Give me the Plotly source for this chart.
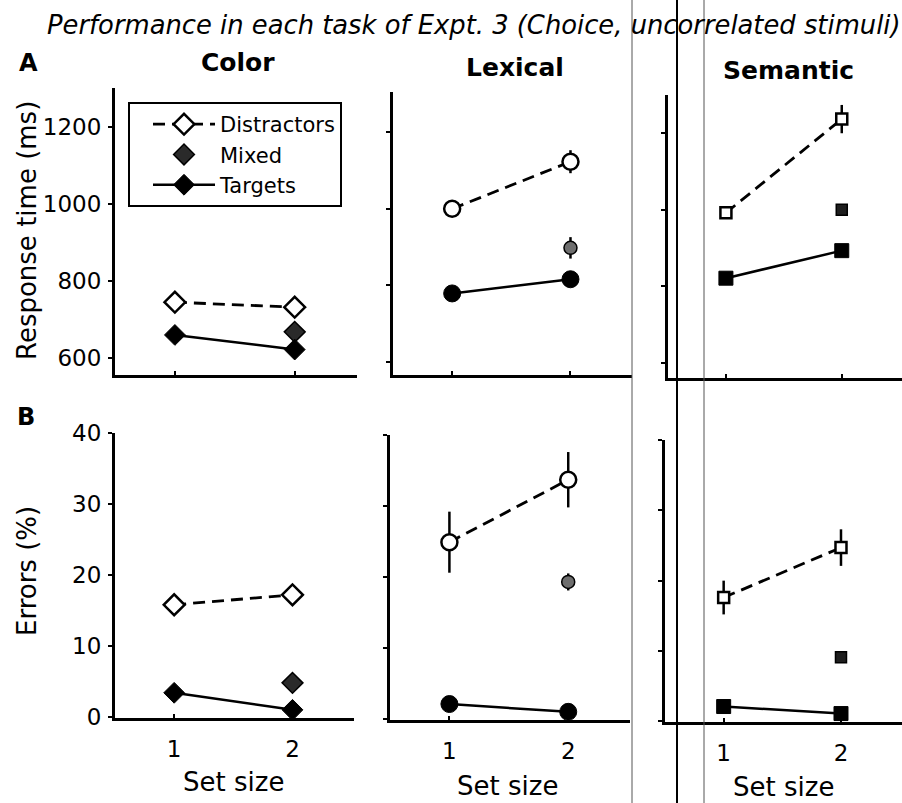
import plotly.graph_objects as go

# ---------------- data ----------------
set_size = [1, 2]
mixed_set_size = [2]

rt_color_distractors = [745, 732]
rt_color_distractors_err = [8, 8]
rt_color_mixed = [668]
rt_color_mixed_err = [8]
rt_color_targets = [660, 622]
rt_color_targets_err = [6, 6]

rt_lexical_distractors = [1000, 1123]
rt_lexical_distractors_err = [10, 30]
rt_lexical_mixed = [898]
rt_lexical_mixed_err = [28]
rt_lexical_targets = [779, 816]
rt_lexical_targets_err = [8, 8]

rt_semantic_distractors = [992, 1237]
rt_semantic_distractors_err = [15, 37]
rt_semantic_mixed = [1000]
rt_semantic_mixed_err = [10]
rt_semantic_targets = [821, 893]
rt_semantic_targets_err = [6, 8]

er_color_distractors = [15.8, 17.2]
er_color_distractors_err = [1.0, 1.3]
er_color_mixed = [4.8]
er_color_mixed_err = [0.8]
er_color_targets = [3.4, 1.0]
er_color_targets_err = [0.5, 0.3]

er_lexical_distractors = [24.9, 33.7]
er_lexical_distractors_err = [4.3, 3.9]
er_lexical_mixed = [19.3]
er_lexical_mixed_err = [1.2]
er_lexical_targets = [2.1, 1.0]
er_lexical_targets_err = [0.4, 0.3]

er_semantic_distractors = [17.6, 24.7]
er_semantic_distractors_err = [2.4, 2.6]
er_semantic_mixed = [9.1]
er_semantic_mixed_err = [0.4]
er_semantic_targets = [2.1, 1.1]
er_semantic_targets_err = [0.4, 0.3]

rt_ticks = [600, 800, 1000, 1200]
err_ticks = [0, 10, 20, 30, 40]
x_ticks = [1, 2]
task_names = ["Color", "Lexical", "Semantic"]
series_names = ["Distractors", "Mixed", "Targets"]

# ---------------- layout helpers ----------------
W, H = 902, 803
FONT = "DejaVu Sans"


def px_x(p):
    return p / W


def px_y(p):
    return 1 - p / H


panels = [
    # (task index, row, x0,x1 px, ytop,ybottom px, yrange)
    (0, "A", 115, 357, 88, 375, [556, 1301]),
    (1, "A", 393, 632, 92, 375, [566, 1305]),
    (2, "A", 668, 902, 95, 378, [560, 1300]),
    (0, "B", 115, 354, 433, 718, [-0.15, 40]),
    (1, "B", 390, 630, 435, 720, [-0.15, 40]),
    (2, "B", 665, 902, 440, 722, [-0.1, 40]),
]

data_sets = {
    (0, "A"): (rt_color_distractors, rt_color_distractors_err, rt_color_mixed, rt_color_mixed_err, rt_color_targets, rt_color_targets_err),
    (1, "A"): (rt_lexical_distractors, rt_lexical_distractors_err, rt_lexical_mixed, rt_lexical_mixed_err, rt_lexical_targets, rt_lexical_targets_err),
    (2, "A"): (rt_semantic_distractors, rt_semantic_distractors_err, rt_semantic_mixed, rt_semantic_mixed_err, rt_semantic_targets, rt_semantic_targets_err),
    (0, "B"): (er_color_distractors, er_color_distractors_err, er_color_mixed, er_color_mixed_err, er_color_targets, er_color_targets_err),
    (1, "B"): (er_lexical_distractors, er_lexical_distractors_err, er_lexical_mixed, er_lexical_mixed_err, er_lexical_targets, er_lexical_targets_err),
    (2, "B"): (er_semantic_distractors, er_semantic_distractors_err, er_semantic_mixed, er_semantic_mixed_err, er_semantic_targets, er_semantic_targets_err),
}

symbols = ["diamond", "circle", "square"]
open_size = [16, 16, 11]
fill_size = [16, 17, 14]
mixed_size = [16, 13, 11]
mixed_color = ["#2a2a2a", "#6e6e6e", "#1e1e1e"]

fig = go.Figure()
layout = dict()

for i, (task, row, x0, x1, yt, yb, yr) in enumerate(panels):
    n = i + 1
    xa = "x" if n == 1 else f"x{n}"
    ya = "y" if n == 1 else f"y{n}"
    xk = "xaxis" if n == 1 else f"xaxis{n}"
    yk = "yaxis" if n == 1 else f"yaxis{n}"
    show_leg = (task == 0 and row == "A")
    d, de, m, me, t, te = data_sets[(task, row)]
    eb = lambda arr: dict(type="data", array=arr, visible=True, color="black", thickness=2.5, width=0)

    fig.add_trace(go.Scatter(
        x=set_size, y=d, error_y=eb(de), mode="lines+markers", name=series_names[0],
        legendgroup="d", showlegend=show_leg,
        line=dict(color="black", width=2.8, dash="12px,7px"),
        marker=dict(symbol=symbols[task], size=open_size[task], color="white",
                    line=dict(color="black", width=2.5)),
        xaxis=xa, yaxis=ya, cliponaxis=False))
    fig.add_trace(go.Scatter(
        x=mixed_set_size, y=m, error_y=eb(me), mode="markers", name=series_names[1],
        legendgroup="m", showlegend=show_leg,
        marker=dict(symbol=symbols[task], size=mixed_size[task], color=mixed_color[task],
                    line=dict(color="black", width=1.5)),
        xaxis=xa, yaxis=ya, cliponaxis=False))
    fig.add_trace(go.Scatter(
        x=set_size, y=t, error_y=eb(te), mode="lines+markers", name=series_names[2],
        legendgroup="t", showlegend=show_leg,
        line=dict(color="black", width=2.5),
        marker=dict(symbol=symbols[task], size=fill_size[task], color="black",
                    line=dict(color="black", width=1)),
        xaxis=xa, yaxis=ya, cliponaxis=False))

    layout[xk] = dict(
        domain=[px_x(x0), px_x(x1)], range=[0.5, 2.52], anchor=ya, automargin=False,
        showgrid=False, zeroline=False, showline=True, linecolor="black", linewidth=3,
        tickvals=x_ticks, ticks="inside", ticklen=4, tickwidth=2, tickcolor="black",
        showticklabels=(row == "B"), ticklabelstandoff=8,
        tickfont=dict(family=FONT, size=23, color="black"),
    )
    layout[yk] = dict(
        domain=[px_y(yb), px_y(yt)], range=yr, anchor=xa, automargin=False,
        showgrid=False, zeroline=False, showline=True, linecolor="black", linewidth=3,
        tickvals=rt_ticks if row == "A" else err_ticks,
        ticks="outside", ticklen=4, tickwidth=2, tickcolor="black",
        showticklabels=(task == 0), ticklabelstandoff=2,
        tickfont=dict(family=FONT, size=23, color="black"),
    )

annotations = [
    dict(text="<i>Performance in each task of Expt. 3 (Choice, uncorrelated stimuli)</i>",
         x=px_x(474), y=px_y(25), font=dict(size=25.8)),
    dict(text="<b>A</b>", x=px_x(28), y=px_y(63), font=dict(size=24)),
    dict(text="<b>B</b>", x=px_x(26), y=px_y(417), font=dict(size=24)),
    dict(text="<b>%s</b>" % task_names[0], x=px_x(238), y=px_y(63), font=dict(size=25)),
    dict(text="<b>%s</b>" % task_names[1], x=px_x(515), y=px_y(67), font=dict(size=25)),
    dict(text="<b>%s</b>" % task_names[2], x=px_x(788), y=px_y(70), font=dict(size=25)),
    dict(text="Response time (ms)", x=px_x(27), y=px_y(231), textangle=-90, font=dict(size=26)),
    dict(text="Errors (%)", x=px_x(27), y=px_y(571), textangle=-90, font=dict(size=26)),
    dict(text="Set size", x=px_x(233), y=px_y(782), font=dict(size=26)),
    dict(text="Set size", x=px_x(507), y=px_y(786), font=dict(size=26)),
    dict(text="Set size", x=px_x(783), y=px_y(787), font=dict(size=26)),
]
for a in annotations:
    a.update(xref="paper", yref="paper", showarrow=False, xanchor="center", yanchor="middle")
    a["font"].update(family=FONT, color="black")

shapes = [
    dict(type="line", xref="paper", yref="paper", x0=px_x(632), x1=px_x(632), y0=0, y1=1,
         line=dict(color="#555555", width=1)),
    dict(type="line", xref="paper", yref="paper", x0=px_x(677), x1=px_x(677), y0=0, y1=1,
         line=dict(color="black", width=2)),
    dict(type="line", xref="paper", yref="paper", x0=px_x(704), x1=px_x(704), y0=0, y1=1,
         line=dict(color="#555555", width=1)),
]

fig.update_layout(
    width=W, height=H, margin=dict(l=0, r=0, t=0, b=0, pad=0, autoexpand=False),
    paper_bgcolor="white", plot_bgcolor="white",
    font=dict(family=FONT, color="black"),
    showlegend=True,
    legend=dict(x=px_x(128), y=px_y(102), xanchor="left", yanchor="top",
                bordercolor="black", borderwidth=2, bgcolor="white",
                font=dict(family=FONT, size=21, color="black"),
                tracegroupgap=0, indentation=18, itemwidth=62),
    annotations=annotations, shapes=shapes, **layout,
)

fig.write_html(
    "out.html",
    config={"displayModeBar": False},
    post_script=(
        "var gd=document.getElementById('{plot_id}');"
        "gd.style.position='fixed';gd.style.top='0px';gd.style.left='0px';"
        "document.body.style.margin='0px';"
        "document.body.style.overflow='hidden';"
        "document.documentElement.style.overflow='hidden';"
    ),
)
